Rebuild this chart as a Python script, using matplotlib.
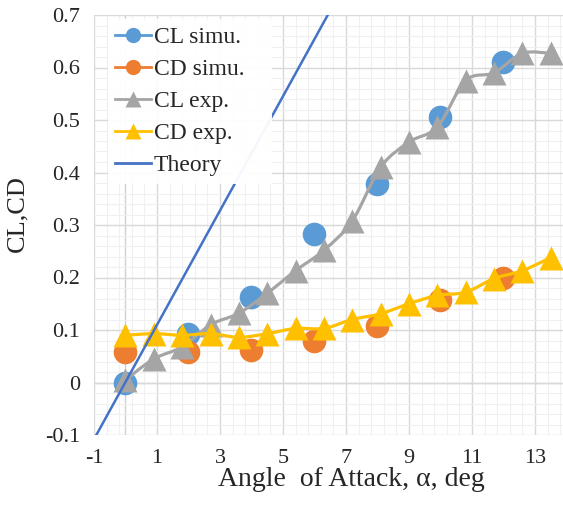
import matplotlib
matplotlib.use("Agg")
import matplotlib.pyplot as plt
from matplotlib.path import Path
from matplotlib.patches import PathPatch
from matplotlib.lines import Line2D
from matplotlib.ticker import MultipleLocator, FuncFormatter
import numpy as np

# ---- data ----
sim_alpha = [0, 2, 4, 6, 8, 10, 12]
cl_sim = [0.0, 0.092, 0.162, 0.283, 0.379, 0.505, 0.61]
cd_sim = [0.058, 0.058, 0.062, 0.080, 0.107, 0.157, 0.200]

exp_alpha = [0.0, 0.9, 1.8, 2.7, 3.6, 4.5, 5.4, 6.3, 7.2, 8.1, 9.0, 9.9, 10.8, 11.7, 12.6, 13.5]
cl_exp = [0.005, 0.045, 0.068, 0.110, 0.132, 0.170, 0.213, 0.252, 0.308, 0.410, 0.458,
          0.487, 0.575, 0.590, 0.627, 0.627]
cd_exp = [0.090, 0.093, 0.090, 0.093, 0.086, 0.093, 0.103, 0.103, 0.120, 0.131, 0.150,
          0.166, 0.172, 0.198, 0.213, 0.238]

theory_alpha = [-1, 7]
theory_cl = [-0.108, 0.763]

xticks = [-1, 1, 3, 5, 7, 9, 11, 13]
yticks = [-0.1, 0, 0.1, 0.2, 0.3, 0.4, 0.5, 0.6, 0.7]

C_BLUE = "#5B9BD5"
C_ORANGE = "#ED7D31"
C_GRAY = "#A5A5A5"
C_YELLOW = "#FFC000"
C_THEORY = "#4472C4"

plt.rcParams['font.family'] = ['Liberation Serif', 'DejaVu Serif']
plt.rcParams['axes.unicode_minus'] = False

fig = plt.figure(figsize=(5.63, 5.09), dpi=100)
W, H = 563, 509
ax = fig.add_axes([94 / W, 1 - 435 / H, (563 - 94) / W, (435 - 15) / H])
ax.set_xlim(-1, 13.89)
ax.set_ylim(-0.1, 0.7)

for s in ax.spines.values():
    s.set_visible(False)

ax.xaxis.set_minor_locator(MultipleLocator(0.4, offset=0.2))
ax.yaxis.set_minor_locator(MultipleLocator(0.02))
ax.set_xticks(xticks)
ax.set_yticks(yticks)
ax.grid(which='major', color='#D9D9D9', lw=1.0, zorder=0)
ax.grid(which='minor', color='#F0F0F0', lw=0.8, zorder=0)
ax.set_axisbelow(True)
ax.axvline(0, color='#D0D0D0', lw=1.0, zorder=0.5)
ax.axhline(0, color='#D0D0D0', lw=1.0, zorder=0.5)

ax.tick_params(which='both', length=0, labelsize=16, colors='#262626')
ax.tick_params(axis='y', pad=10)
ax.tick_params(axis='x', pad=10)
ax.yaxis.set_major_formatter(FuncFormatter(lambda v, p: "0" if abs(v) < 1e-9 else f"{v:.1f}"))


def smooth_path(xs, ys):
    pts = np.column_stack([xs, ys])
    n = len(pts)
    verts = [pts[0]]
    codes = [Path.MOVETO]
    for i in range(n - 1):
        p0 = pts[i - 1] if i > 0 else pts[i]
        p1 = pts[i]
        p2 = pts[i + 1]
        p3 = pts[i + 2] if i + 2 < n else pts[i + 1]
        c1 = p1 + (p2 - p0) / 6.0
        c2 = p2 - (p3 - p1) / 6.0
        verts += [c1, c2, p2]
        codes += [Path.CURVE4] * 3
    return Path(verts, codes)


ms_c = 17
ms_t = 17

ax.plot(sim_alpha, cl_sim, ls='none', marker='o', ms=ms_c, color=C_BLUE, mec='none', zorder=3)
ax.plot(sim_alpha, cd_sim, ls='none', marker='o', ms=ms_c, color=C_ORANGE, mec='none', zorder=3.1)

ax.add_patch(PathPatch(smooth_path(exp_alpha, cl_exp), fc='none', ec=C_GRAY, lw=2.3, zorder=3.2))
ax.plot(exp_alpha, cl_exp, ls='none', marker='^', ms=ms_t, color=C_GRAY, mec='none', zorder=3.3)
ax.add_patch(PathPatch(smooth_path(exp_alpha, cd_exp), fc='none', ec=C_YELLOW, lw=2.3, zorder=3.4))
ax.plot(exp_alpha, cd_exp, ls='none', marker='^', ms=ms_t, color=C_YELLOW, mec='none', zorder=3.5)

ax.plot(theory_alpha, theory_cl, color=C_THEORY, lw=1.8, zorder=4)

handles = [
    Line2D([], [], color=C_BLUE, lw=2, marker='o', ms=11, mec='none'),
    Line2D([], [], color=C_ORANGE, lw=2, marker='o', ms=11, mec='none'),
    Line2D([], [], color=C_GRAY, lw=2, marker='^', ms=11, mec='none'),
    Line2D([], [], color=C_YELLOW, lw=2, marker='^', ms=11, mec='none'),
    Line2D([], [], color=C_THEORY, lw=2),
]
labels = ["CL simu.", "CD simu.", "CL exp.", "CD exp.", "Theory"]
leg = ax.legend(handles, labels, loc='upper left', bbox_to_anchor=(0.03, 0.99, 0.35, 0.0),
                mode='expand',
                fontsize=17, frameon=True, fancybox=False, framealpha=0.95,
                edgecolor='none', handlelength=1.5, handletextpad=0.13,
                labelspacing=0.45, borderpad=0.3, borderaxespad=0.0)
for t in leg.get_texts():
    t.set_color('#262626')

fig.text(17.5 / W, 1 - 214 / H, "CL,CD", rotation=90, ha='center', va='center',
         fontsize=19, color='#262626')
fig.text(351 / W, 1 - 486 / H, "Angle  of Attack, α, deg", ha='center', va='baseline',
         fontsize=20, color='#262626')

fig.savefig("out.png", dpi=100)
